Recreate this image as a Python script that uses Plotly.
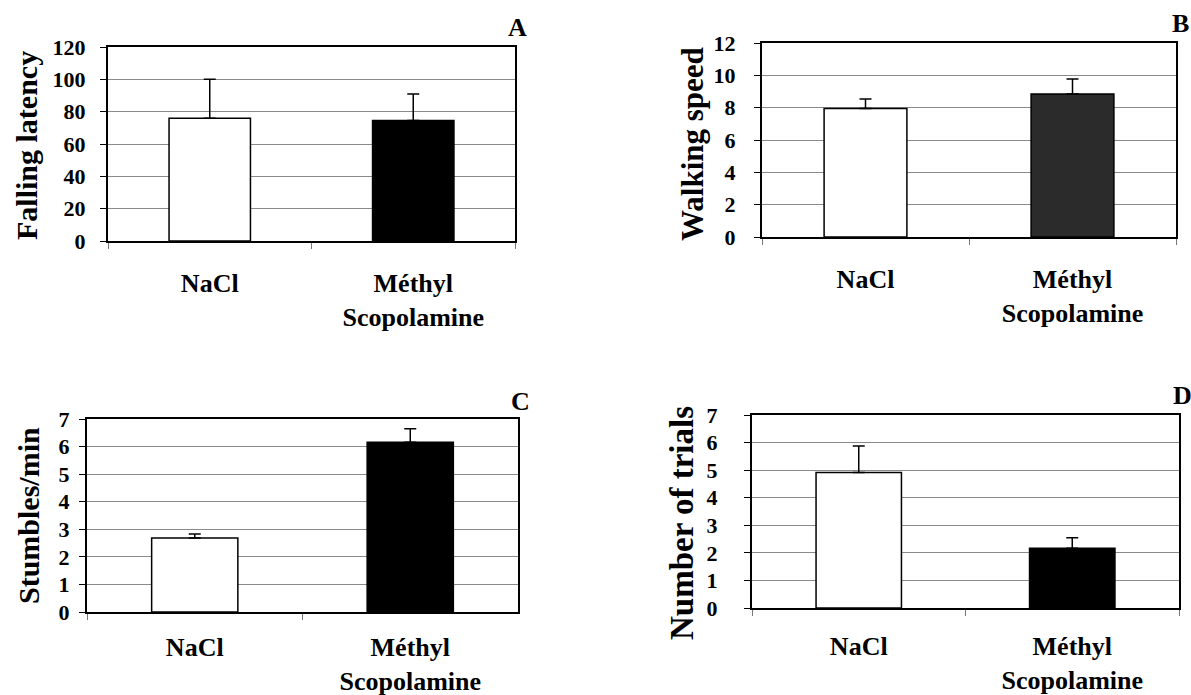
import plotly.graph_objects as go

W, H = 1191, 695

categories = ["NaCl", "Méthyl<br>Scopolamine"]

falling_latency = [76, 74.5]
falling_latency_err = [24, 16.5]
walking_speed = [7.95, 8.85]
walking_speed_err = [0.58, 0.93]
stumbles_per_min = [2.68, 6.16]
stumbles_per_min_err = [0.15, 0.49]
number_of_trials = [4.91, 2.17]
number_of_trials_err = [0.97, 0.38]

y_titles = ["Falling latency", "Walking speed", "Stumbles/min", "Number of trials"]
panel_letters = ["A", "B", "C", "D"]

FONT = "Liberation Serif, Times New Roman, serif"

panels = [
    dict(vals=falling_latency, err=falling_latency_err, colors=["white", "black"],
         rng=[0, 120], dtick=20, px=(108, 515), py=(47, 241), title=y_titles[0],
         tpos=(27, 146), tsize=30, letter=panel_letters[0], lpos=(517, 27), standoff=10,
         xstand=18),
    dict(vals=walking_speed, err=walking_speed_err, colors=["white", "#2b2b2b"],
         rng=[0, 12], dtick=2, px=(762, 1176), py=(43, 237), title=y_titles[1],
         tpos=(692, 144), tsize=31, letter=panel_letters[1], lpos=(1180, 24), standoff=14,
         xstand=18),
    dict(vals=stumbles_per_min, err=stumbles_per_min_err, colors=["white", "black"],
         rng=[0, 7], dtick=1, px=(87, 518), py=(419, 612), title=y_titles[2],
         tpos=(28, 516), tsize=30, letter=panel_letters[2], lpos=(520, 401), standoff=5,
         xstand=11),
    dict(vals=number_of_trials, err=number_of_trials_err, colors=["white", "black"],
         rng=[0, 7], dtick=1, px=(752, 1179), py=(415, 608), title=y_titles[3],
         tpos=(682, 523), tsize=33, letter=panel_letters[3], lpos=(1182, 395), standoff=22,
         xstand=14),
]

fig = go.Figure()
annotations = []
layout = {}
for i, p in enumerate(panels, start=1):
    xa = "x" if i == 1 else f"x{i}"
    ya = "y" if i == 1 else f"y{i}"
    fig.add_trace(go.Bar(
        x=categories, y=p["vals"], xaxis=xa, yaxis=ya, width=0.4,
        marker=dict(color=p["colors"], line=dict(color="black", width=1.5)),
        error_y=dict(type="data", array=p["err"], arrayminus=[0, 0], symmetric=False,
                     color="black", thickness=1.5, width=6),
        showlegend=False,
    ))
    xkey = "xaxis" if i == 1 else f"xaxis{i}"
    ykey = "yaxis" if i == 1 else f"yaxis{i}"
    layout[xkey] = dict(
        domain=[p["px"][0] / W, p["px"][1] / W], anchor=ya, type="category",
        range=[-0.5, 1.5], tickson="boundaries", ticks="outside", ticklen=6,
        tickcolor="#777", tickwidth=1, showline=True, linecolor="black", linewidth=2,
        mirror=True, showgrid=False, ticklabelstandoff=p["xstand"], automargin=False,
        tickfont=dict(family=FONT, size=26, color="black", weight="bold"),
    )
    layout[ykey] = dict(
        domain=[1 - p["py"][1] / H, 1 - p["py"][0] / H], anchor=xa,
        range=p["rng"], dtick=p["dtick"], ticks="outside", ticklen=6,
        tickcolor="black", showline=True, linecolor="black", linewidth=2, mirror=True,
        showgrid=True, gridcolor="#8a8a8a", gridwidth=1, zeroline=False,
        ticklabelstandoff=p["standoff"], automargin=False,
        tickfont=dict(family=FONT, size=22, color="black", weight="bold"),
    )
    annotations.append(dict(
        text=p["title"], xref="paper", yref="paper", x=p["tpos"][0] / W,
        y=1 - p["tpos"][1] / H, xanchor="center", yanchor="middle", textangle=-90,
        showarrow=False, font=dict(family=FONT, size=p["tsize"], color="black", weight="bold"),
    ))
    annotations.append(dict(
        text=p["letter"], xref="paper", yref="paper", x=p["lpos"][0] / W,
        y=1 - p["lpos"][1] / H, xanchor="center", yanchor="middle",
        showarrow=False, font=dict(family=FONT, size=26, color="black", weight="bold"),
    ))

fig.update_layout(
    width=W, height=H, margin=dict(l=0, r=0, t=0, b=0, pad=0, autoexpand=False),
    paper_bgcolor="white", plot_bgcolor="white", annotations=annotations,
    bargap=0.6, **layout,
)

fig.write_html(
    "out.html",
    config={"displayModeBar": False},
    post_script="document.body.style.margin='0';document.body.style.overflow='hidden';",
)
